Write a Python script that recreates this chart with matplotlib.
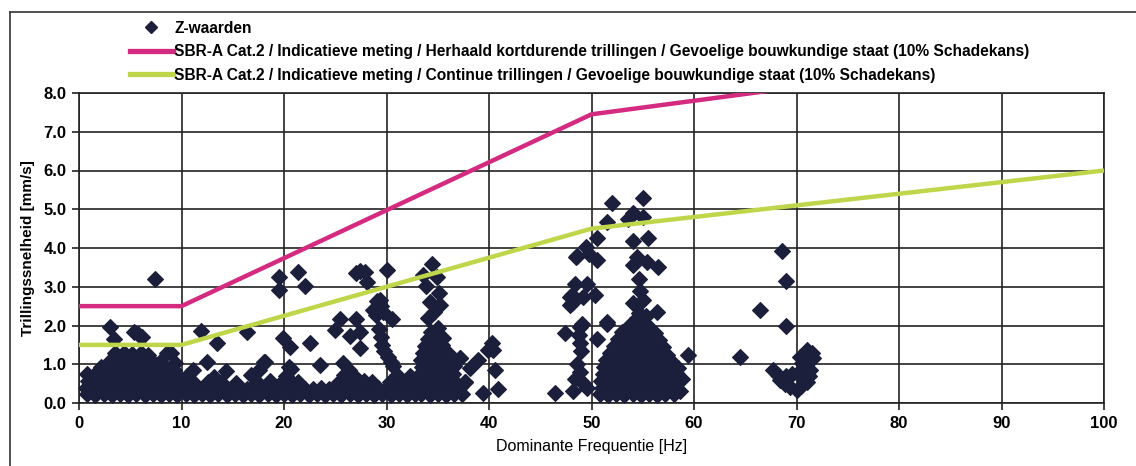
import matplotlib
matplotlib.use("Agg")
import matplotlib.pyplot as plt
from matplotlib.lines import Line2D

# ---------------- data ----------------
x_ticks = [0, 10, 20, 30, 40, 50, 60, 70, 80, 90, 100]
y_ticks = [0.0, 1.0, 2.0, 3.0, 4.0, 5.0, 6.0, 7.0, 8.0]

pink_freq = [0, 10, 50, 100]
pink_vel = [2.5, 2.5, 7.45, 9.2]
green_freq = [0, 10, 50, 100]
green_vel = [1.5, 1.5, 4.5, 6.0]

label_z = "Z-waarden"
label_pink = "SBR-A Cat.2 / Indicatieve meting / Herhaald kortdurende trillingen / Gevoelige bouwkundige staat (10% Schadekans)"
label_green = "SBR-A Cat.2 / Indicatieve meting / Continue trillingen / Gevoelige bouwkundige staat (10% Schadekans)"

# blob 0-10 Hz
blob_low = [
    (0.8, 0.22), (1.6, 0.20), (2.4, 0.23), (3.2, 0.21), (4.0, 0.22), (4.8, 0.20), (5.6, 0.23), (6.4, 0.21), (7.2, 0.22), (8.0, 0.20), (8.8, 0.23), (9.6, 0.21),
    (0.7, 0.40), (1.5, 0.38), (2.3, 0.41), (3.1, 0.39), (3.9, 0.40), (4.7, 0.42), (5.5, 0.38), (6.3, 0.40), (7.1, 0.41), (7.9, 0.39), (8.7, 0.40), (9.5, 0.38),
    (0.9, 0.58), (1.7, 0.56), (2.5, 0.59), (3.3, 0.57), (4.1, 0.58), (4.9, 0.60), (5.7, 0.56), (6.5, 0.58), (7.3, 0.59), (8.1, 0.57), (8.9, 0.58), (9.7, 0.55),
    (0.8, 0.76), (1.6, 0.74), (2.6, 0.77), (3.4, 0.75), (4.2, 0.76), (5.0, 0.78), (5.8, 0.74), (6.6, 0.76), (7.4, 0.77), (8.2, 0.75), (9.0, 0.74), (9.6, 0.70),
    (2.1, 0.94), (2.9, 0.92), (3.7, 0.95), (4.5, 0.93), (5.3, 0.94), (6.1, 0.96), (6.9, 0.92), (7.7, 0.94), (8.5, 0.90), (9.3, 0.85),
    (3.1, 1.12), (3.9, 1.10), (4.7, 1.13), (5.5, 1.11), (6.3, 1.12), (7.1, 1.09), (7.9, 1.05),
    (3.5, 1.28), (4.4, 1.30), (5.2, 1.27), (6.0, 1.29), (6.7, 1.25),
]
# band 10-33 Hz
band_mid = [
    (10.4, 0.22), (11.2, 0.20), (12.0, 0.23), (12.8, 0.21), (13.6, 0.22), (14.4, 0.20), (15.2, 0.23), (16.0, 0.21), (16.8, 0.22), (17.6, 0.20),
    (18.4, 0.23), (19.2, 0.21), (20.0, 0.22), (20.8, 0.20), (21.6, 0.23), (22.4, 0.21), (23.2, 0.22), (24.0, 0.20), (24.8, 0.23), (25.6, 0.21),
    (26.4, 0.22), (27.2, 0.20), (28.0, 0.23), (28.8, 0.21), (29.6, 0.22), (30.4, 0.20), (31.2, 0.23), (32.0, 0.21), (32.8, 0.22),
    (10.8, 0.38), (11.6, 0.40), (12.4, 0.37), (13.2, 0.39), (14.0, 0.38), (14.8, 0.36), (15.6, 0.39), (16.4, 0.37), (17.2, 0.38), (18.0, 0.40),
    (18.8, 0.37), (19.6, 0.39), (20.4, 0.38), (21.2, 0.40), (22.0, 0.37), (22.8, 0.36), (23.6, 0.38), (24.4, 0.37), (25.2, 0.39), (26.0, 0.40),
    (26.8, 0.38), (27.6, 0.39), (28.4, 0.37), (29.2, 0.38), (30.0, 0.40), (30.8, 0.37), (31.6, 0.39), (32.4, 0.38),
    (10.2, 0.54), (11.0, 0.56), (12.6, 0.53), (13.9, 0.55), (15.3, 0.52), (17.4, 0.54), (18.6, 0.56), (19.8, 0.55), (20.6, 0.57), (21.4, 0.53),
    (25.4, 0.55), (26.2, 0.57), (27.0, 0.54), (27.8, 0.56), (28.6, 0.53), (30.3, 0.55), (31.5, 0.57), (32.6, 0.54),
    (10.5, 0.70), (13.2, 0.68), (16.8, 0.72), (20.2, 0.70), (25.9, 0.72), (26.8, 0.70), (31.0, 0.72), (32.3, 0.69),
    (11.1, 0.85), (14.3, 0.82), (17.6, 0.86), (20.7, 0.88), (26.3, 0.86),
    (12.5, 1.05), (18.0, 1.07), (23.5, 0.97), (25.8, 1.02), (20.5, 0.93),
]
# column 33-37 Hz
column_35 = [
    (33.4, 0.22), (34.2, 0.20), (35.0, 0.23), (35.8, 0.21), (36.6, 0.22), (37.4, 0.24),
    (33.2, 0.40), (34.0, 0.38), (34.8, 0.41), (35.6, 0.39), (36.4, 0.40), (37.2, 0.42),
    (33.4, 0.58), (34.2, 0.56), (35.0, 0.59), (35.8, 0.57), (36.6, 0.58), (37.7, 0.54),
    (33.3, 0.76), (34.1, 0.74), (34.9, 0.77), (35.7, 0.75), (36.5, 0.76),
    (33.5, 0.94), (34.3, 0.92), (35.1, 0.95), (35.9, 0.93), (36.6, 0.96),
    (33.4, 1.12), (34.2, 1.10), (35.0, 1.13), (35.8, 1.11), (37.2, 1.15),
    (33.6, 1.30), (34.4, 1.28), (35.2, 1.31), (36.0, 1.29),
    (33.8, 1.48), (34.6, 1.46), (35.4, 1.49),
    (34.0, 1.66), (34.8, 1.64), (35.5, 1.68),
    (34.3, 1.84), (35.0, 1.93),
    (34.0, 2.20), (34.6, 2.35), (35.2, 2.52), (34.2, 2.60), (35.1, 2.85), (33.9, 3.03), (33.6, 3.30), (34.9, 3.25), (34.4, 3.60),
]
# scattered points 0-32 Hz
scatter_mid = [
    (19.5, 3.25), (19.5, 2.92), (21.4, 3.37), (22.0, 3.03), (27.0, 3.35), (27.4, 3.40), (27.9, 3.37), (28.1, 3.11), (30.0, 3.42),
    (28.7, 2.40), (29.1, 2.62), (29.5, 2.50), (29.7, 2.35), (29.0, 2.28), (29.4, 2.65),
    (25.5, 2.18), (27.0, 2.18), (30.5, 2.18), (25.0, 1.88), (26.4, 1.74), (27.4, 1.82), (27.4, 1.41), (22.5, 1.56),
    (19.9, 1.67), (20.6, 1.44), (29.3, 1.90), (29.5, 1.70), (29.6, 1.50), (29.8, 1.35), (30.1, 1.20), (30.4, 1.05), (30.6, 0.95),
    (11.9, 1.85), (13.5, 1.56), (16.4, 1.82), (18.1, 1.07), (7.4, 3.19),
    (3.0, 1.95), (3.4, 1.64), (5.4, 1.83), (5.8, 1.78), (6.1, 1.70), (8.6, 1.28), (9.0, 1.28), (9.4, 1.02),
]
# points 37-50 Hz
scatter_45 = [
    (37.2, 1.15), (38.1, 0.90), (38.9, 1.10), (40.3, 1.56), (40.4, 1.36), (39.9, 1.36), (40.6, 0.84), (40.9, 0.37), (39.4, 0.25),
    (46.4, 0.25), (37.7, 0.54),
    (47.4, 1.80), (48.6, 3.80), (50.5, 3.68), (48.4, 3.08), (49.6, 3.08), (48.1, 2.78), (48.1, 2.57), (49.2, 2.73), (50.3, 2.78),
    (51.5, 2.08), (48.9, 1.95), (48.8, 1.75), (48.9, 1.55), (49.0, 1.35), (48.6, 1.00), (48.9, 0.80), (48.4, 0.62), (49.3, 0.50),
    (50.5, 1.66), (49.5, 4.02), (48.5, 3.78), (49.1, 2.05), (47.9, 2.73), (47.9, 2.52), (48.2, 0.30), (49.6, 0.40),
]
# blob 50-59 Hz
blob_55 = [
    (50.8, 0.22), (51.6, 0.20), (52.4, 0.23), (53.2, 0.21), (54.0, 0.22), (54.8, 0.20), (55.6, 0.23), (56.4, 0.21), (57.2, 0.22), (58.0, 0.24), (58.6, 0.30),
    (51.0, 0.40), (51.8, 0.38), (52.6, 0.41), (53.4, 0.39), (54.2, 0.40), (55.0, 0.42), (55.8, 0.38), (56.6, 0.40), (57.4, 0.41), (58.2, 0.39),
    (50.9, 0.58), (51.7, 0.56), (52.5, 0.59), (53.3, 0.57), (54.1, 0.58), (54.9, 0.60), (55.7, 0.56), (56.5, 0.58), (57.3, 0.59), (58.1, 0.57), (58.8, 0.62),
    (51.1, 0.76), (51.9, 0.74), (52.7, 0.77), (53.5, 0.75), (54.3, 0.76), (55.1, 0.78), (55.9, 0.74), (56.7, 0.76), (57.5, 0.77), (58.3, 0.75),
    (51.2, 0.94), (52.0, 0.92), (52.8, 0.95), (53.6, 0.93), (54.4, 0.94), (55.2, 0.96), (56.0, 0.92), (56.8, 0.94), (57.6, 0.95), (58.4, 0.90),
    (51.4, 1.12), (52.2, 1.10), (53.0, 1.13), (53.8, 1.11), (54.6, 1.12), (55.4, 1.10), (56.2, 1.13), (57.0, 1.11), (57.8, 1.08),
    (51.8, 1.30), (52.6, 1.28), (53.4, 1.31), (54.2, 1.29), (55.0, 1.30), (55.8, 1.28), (56.6, 1.30), (57.4, 1.25),
    (52.2, 1.48), (53.0, 1.46), (53.8, 1.49), (54.6, 1.47), (55.4, 1.48), (56.2, 1.46), (57.0, 1.45),
    (52.6, 1.66), (53.4, 1.64), (54.2, 1.67), (55.0, 1.65), (55.8, 1.66), (56.6, 1.62),
    (53.0, 1.84), (53.8, 1.82), (54.6, 1.85), (55.4, 1.83), (56.2, 1.80),
    (53.8, 2.02), (54.6, 2.05), (55.4, 2.02), (54.4, 2.20), (55.3, 2.25),
    (59.4, 1.23),
]
# points above blob 50-59 Hz
scatter_55 = [
    (52.0, 5.17), (55.0, 5.28), (51.5, 4.66), (54.0, 4.90), (53.6, 4.76), (55.0, 4.79), (50.5, 4.25),
    (54.0, 4.19), (55.5, 4.27), (54.4, 3.76), (54.0, 3.55), (55.4, 3.63), (56.5, 3.50), (54.6, 3.21),
    (54.7, 2.90), (54.0, 2.57), (55.0, 2.65), (54.6, 2.31), (56.4, 2.34), (51.5, 2.05), (49.8, 3.85),
]
# cluster 64-72 Hz
cluster_70 = [
    (67.7, 0.85), (68.2, 0.72), (68.4, 0.60), (68.9, 0.50), (69.4, 0.42), (70.0, 0.33), (70.4, 0.45), (70.6, 0.62),
    (71.0, 0.54), (71.3, 0.85), (70.8, 0.95), (70.3, 1.19), (71.0, 1.36), (71.5, 1.30), (69.6, 0.75), (69.0, 0.70),
    (70.2, 0.80), (71.6, 1.15), (71.2, 0.70), (70.5, 1.02),
    (68.6, 3.93), (69.0, 3.14), (69.0, 2.00), (66.4, 2.41), (64.5, 1.20),
]

# ---------------- figure ----------------
W, H, DPI = 1136, 466, 100
fig = plt.figure(figsize=(W / DPI, H / DPI), dpi=DPI)
plt.rcParams['font.family'] = ['Liberation Sans', 'DejaVu Sans']

ax = fig.add_axes([79 / W, 1 - 403 / H, (1104 - 79) / W, (403 - 93) / H])

marker_color = '#1b1f3b'
pink = '#d42a7f'
green = '#bfd64a'

all_pts = blob_low + band_mid + column_35 + scatter_mid + scatter_45 + blob_55 + scatter_55 + cluster_70
xs = [p[0] for p in all_pts]
ys = [p[1] for p in all_pts]
ax.plot(xs, ys, linestyle='none', marker='D', markersize=8.2, color=marker_color,
        markeredgewidth=0.8, markeredgecolor=marker_color, zorder=3, clip_on=False)

ax.plot(pink_freq, pink_vel, color=pink, lw=3.2, zorder=4, solid_capstyle='butt')
ax.plot(green_freq, green_vel, color=green, lw=3.2, zorder=4, solid_capstyle='butt')

ax.set_xlim(0, 100)
ax.set_ylim(0, 8)
ax.set_xticks(x_ticks)
ax.set_yticks(y_ticks)
ax.set_yticklabels([f"{v:.1f}" for v in y_ticks], fontsize=12, fontweight='bold')
ax.set_xticklabels([str(v) for v in x_ticks], fontsize=12, fontweight='bold')
ax.grid(True, color='#222222', lw=1.2, zorder=1)
ax.set_axisbelow(True)
for s in ax.spines.values():
    s.set_color('#222222')
    s.set_linewidth(1.2)
ax.tick_params(direction='out', length=5, width=1.2, color='#222222', pad=4)

ax.set_ylabel("Trillingssnelheid [mm/s]", fontsize=11, fontweight='bold', labelpad=6)
ax.set_xlabel("Dominante Frequentie [Hz]", fontsize=11.5, labelpad=6)

handles = [
    Line2D([], [], linestyle='none', marker='D', markersize=6.5, color=marker_color),
    Line2D([], [], color=pink, lw=3.8),
    Line2D([], [], color=green, lw=3.8),
]
fig.legend(handles, [label_z, label_pink, label_green], loc='upper left',
           bbox_to_anchor=(122 / W, 1 - 13 / H), frameon=False,
           prop={'size': 11.2, 'weight': 'bold'},
           handlelength=2.75, handletextpad=0.1, labelspacing=0.55, borderpad=0)

# outer frame
fig.add_artist(Line2D([10 / W, 10 / W], [0, 1 - 12 / H], transform=fig.transFigure, color='#333333', lw=1.2))
fig.add_artist(Line2D([10 / W, 1], [1 - 12 / H, 1 - 12 / H], transform=fig.transFigure, color='#333333', lw=1.2))

fig.savefig("out.png", dpi=DPI)
